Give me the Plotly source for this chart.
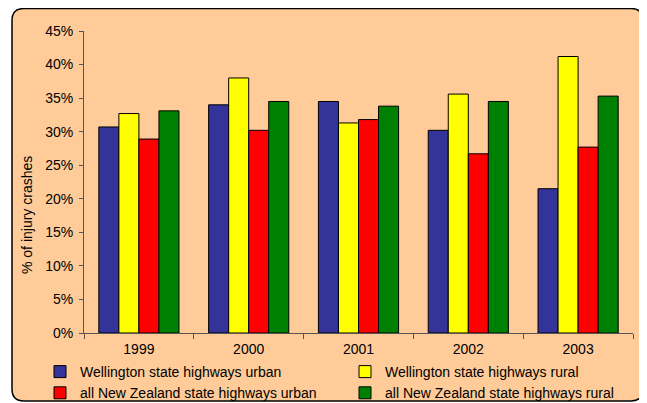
import plotly.graph_objects as go

years = ["1999", "2000", "2001", "2002", "2003"]
series_names = [
    "Wellington state highways urban",
    "Wellington state highways rural",
    "all New Zealand state highways urban",
    "all New Zealand state highways rural",
]
wgtn_urban = [30.7, 34.0, 34.5, 30.2, 21.5]
wgtn_rural = [32.7, 38.0, 31.3, 35.6, 41.2]
nz_urban = [28.9, 30.2, 31.8, 26.7, 27.7]
nz_rural = [33.1, 34.5, 33.8, 34.5, 35.3]
y_ticks = [0, 5, 10, 15, 20, 25, 30, 35, 40, 45]
y_tick_labels = [f"{v}%" for v in y_ticks]

colors = ["#333399", "#FFFF00", "#FF0000", "#008000"]
values = [wgtn_urban, wgtn_rural, nz_urban, nz_rural]

FONT = "Liberation Sans, Arial, sans-serif"
BG = "#FFCC99"
FS = 14

fig = go.Figure()
for name, vals, col in zip(series_names, values, colors):
    fig.add_trace(go.Bar(
        x=years, y=vals, name=name,
        marker=dict(color=col, line=dict(color="#000000", width=1)),
    ))

# page has an 8px body margin; figure sized to fit the 647x403 window
OFF = 8
W, H = 647 - OFF, 403 - OFF
# desired page-pixel layout of the plot area
PL, PR, PT, PB = 84, 633, 31, 333
L, T = PL - OFF, PT - OFF
R, B = W - (PR - OFF), H - (PB - OFF)
pw, ph = W - L - R, H - T - B

def px(x):  # page x -> paper
    return (x - OFF - L) / pw

def py(y):  # page y -> paper
    return (H - B - (y - OFF)) / ph

# rounded panel (page coords)
x0, x1, y0, y1 = 12, 643, 8.5, 401
r = 12
path = (
    f"M {px(x0 + r)},{py(y0)} L {px(x1 - r)},{py(y0)} "
    f"Q {px(x1)},{py(y0)} {px(x1)},{py(y0 + r)} "
    f"L {px(x1)},{py(y1 - r)} Q {px(x1)},{py(y1)} {px(x1 - r)},{py(y1)} "
    f"L {px(x0 + r)},{py(y1)} Q {px(x0)},{py(y1)} {px(x0)},{py(y1 - r)} "
    f"L {px(x0)},{py(y0 + r)} Q {px(x0)},{py(y0)} {px(x0 + r)},{py(y0)} Z"
)
fig.add_shape(type="path", path=path, xref="paper", yref="paper",
              fillcolor=BG, line=dict(color="#000000", width=1.5), layer="below")

fig.add_annotation(text="% of injury crashes", textangle=-90,
                   x=px(27), y=py(215), xref="paper", yref="paper",
                   xanchor="center", yanchor="middle",
                   showarrow=False, font=dict(family=FONT, size=FS, color="#000000"))

fig.update_layout(
    width=W, height=H,
    margin=dict(l=L, r=R, t=T, b=B, pad=0, autoexpand=False),
    paper_bgcolor="#FFFFFF",
    plot_bgcolor=BG,
    barmode="group",
    bargap=0.27,
    bargroupgap=0,
    font=dict(family=FONT, size=FS, color="#000000"),
    showlegend=True,
    legend=dict(
        orientation="h",
        x=px(40), y=py(356), xanchor="left", yanchor="top",
        entrywidth=260, entrywidthmode="pixels",
        bgcolor="rgba(0,0,0,0)",
        font=dict(family=FONT, size=FS, color="#000000"),
        traceorder="normal",
        itemclick=False,
    ),
    xaxis=dict(
        type="category",
        showgrid=False, showline=True, linecolor="#555555", linewidth=1,
        ticks="outside", ticklen=5, tickcolor="#555555", tickson="boundaries",
        ticklabelstandoff=3,
        tickfont=dict(family=FONT, size=FS, color="#000000"),
    ),
    yaxis=dict(
        range=[0, 45], showgrid=False, zeroline=False,
        showline=True, linecolor="#555555", linewidth=1,
        ticks="outside", ticklen=4, tickcolor="#555555",
        tickvals=y_ticks, ticktext=y_tick_labels,
        ticklabelstandoff=3,
        tickfont=dict(family=FONT, size=FS, color="#000000"),
    ),
)

fig.write_html("out.html")
